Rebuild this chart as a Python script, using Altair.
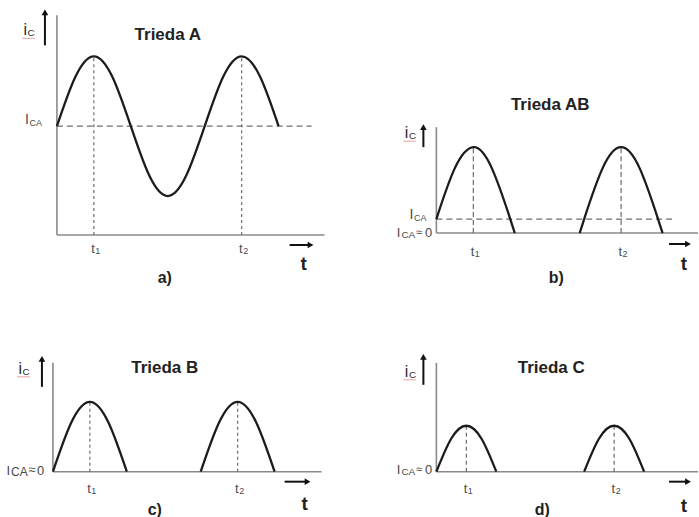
import altair as alt
import pandas as pd

# Horizontal axis is the phase angle (degrees), vertical axis the collector
# current in arbitrary units.  Both scales are shared by all four panels.
PX_PER_DEG = 148 / 360
PX_PER_UNIT = 10.0

# ---------------- data ----------------
# Class A: the collector current swings around the quiescent value
a_phase = [0, 45, 90, 135, 180, 225, 270, 315, 360, 405, 450, 495, 540]
a_ic = [10.9, 15.85, 17.9, 15.85, 10.9, 5.95, 3.9, 5.95, 10.9, 15.85, 17.9, 15.85, 10.9]
a_ica = 10.9
a_peaks = [90, 450]

# Class AB: small quiescent current, conduction a little over half a period
ab_pulse1_phase = [0, 45, 90, 135, 180, 191]
ab_pulse1_ic = [1.4, 6.5, 8.6, 6.5, 1.4, 0.0]
ab_pulse2_phase = [349, 360, 405, 450, 495, 540, 551]
ab_pulse2_ic = [0.0, 1.4, 6.5, 8.6, 6.5, 1.4, 0.0]
ab_ica = 1.4
ab_peaks = [90, 450]

# Class B: conduction during exactly half a period
b_pulse1_phase = [0, 45, 90, 135, 180]
b_pulse1_ic = [0.0, 4.95, 7.0, 4.95, 0.0]
b_pulse2_phase = [360, 405, 450, 495, 540]
b_pulse2_ic = [0.0, 4.95, 7.0, 4.95, 0.0]
b_peaks = [90, 450]

# Class C: conduction during less than half a period
c_pulse1_phase = [0, 36, 73, 110, 146]
c_pulse1_ic = [0.0, 3.3, 4.6, 3.3, 0.0]
c_pulse2_phase = [360, 396, 433, 470, 506]
c_pulse2_ic = [0.0, 3.3, 4.6, 3.3, 0.0]
c_peaks = [73, 433]

peak_names = ["1", "2"]

# ---------------- styling ----------------
FONT = "Liberation Sans"
CURVE = "#1c1c1c"
AXIS = "#8a8a8a"
DASH = "#6e6e6e"
TEXT = "#2b2b2b"
LIGHT = "#4a4a4a"
RED = "#e7a3a3"


def make_panel(p):
    W, H = p["size"]
    ox, oy = p["origin"]
    xs = alt.Scale(domain=[-ox / PX_PER_DEG, (W - ox) / PX_PER_DEG], nice=False, zero=False)
    ys = alt.Scale(domain=[-(H - oy) / PX_PER_UNIT, oy / PX_PER_UNIT], nice=False, zero=False)

    def px(v):
        return (v - ox) / PX_PER_DEG

    def py(v):
        return (oy - v) / PX_PER_UNIT

    def X(f):
        return alt.X(f, type="quantitative", scale=xs, axis=None)

    def Y(f):
        return alt.Y(f, type="quantitative", scale=ys, axis=None)

    layers = []

    def text(s, x, y, size, align="center", color=TEXT, weight="normal", dy=0):
        df = pd.DataFrame({"x": [x], "y": [y], "s": [s]})
        layers.append(
            alt.Chart(df).mark_text(
                font=FONT, fontSize=size, align=align, baseline="alphabetic",
                color=color, fontWeight=weight, dy=dy,
            ).encode(x=X("x"), y=Y("y"), text="s:N")
        )

    # axes
    vax = pd.DataFrame({"x": [0.0], "y": [0.0], "y2": [py(p["vtop"])]})
    layers.append(alt.Chart(vax).mark_rule(color=AXIS, strokeWidth=1.6).encode(
        x=X("x"), y=Y("y"), y2=alt.Y2("y2")))
    hax = pd.DataFrame({"x": [0.0], "x2": [px(p["hright"])], "y": [0.0]})
    layers.append(alt.Chart(hax).mark_rule(color=AXIS, strokeWidth=1.6).encode(
        x=X("x"), x2=alt.X2("x2"), y=Y("y")))

    # quiescent-current level
    if p.get("ica") is not None:
        qd = pd.DataFrame({"x": [0.0], "x2": [px(p["ica_right"])], "y": [p["ica"]]})
        layers.append(alt.Chart(qd).mark_rule(color=DASH, strokeWidth=1.3, strokeDash=[6, 4]).encode(
            x=X("x"), x2=alt.X2("x2"), y=Y("y")))

    # vertical guides at the peaks
    peaks = p["peaks"]
    guide = pd.DataFrame({"x": peaks, "y": [0.0] * len(peaks),
                          "y2": [p["peak_ic"]] * len(peaks)})
    layers.append(alt.Chart(guide).mark_rule(color=DASH, strokeWidth=1.2, strokeDash=p["gdash"]).encode(
        x=X("x"), y=Y("y"), y2=alt.Y2("y2")))

    # the current waveform
    rows = []
    for k, (ph, ic) in enumerate(p["curves"]):
        for a, b in zip(ph, ic):
            rows.append({"phase": a, "ic": b, "seg": k})
    cd = pd.DataFrame(rows)
    layers.append(alt.Chart(cd).mark_line(color=CURVE, strokeWidth=2.3, interpolate="natural").encode(
        x=X("phase"), y=Y("ic"), detail="seg:N", order="phase:Q"))

    # up arrow next to the i_C label
    ax_x = px(p["uparrow"][0])
    ua = pd.DataFrame({"x": [ax_x], "y": [py(p["uparrow"][1])], "y2": [py(p["uparrow"][2] + 5)]})
    layers.append(alt.Chart(ua).mark_rule(color="#111111", strokeWidth=2).encode(
        x=X("x"), y=Y("y"), y2=alt.Y2("y2")))
    uh = pd.DataFrame({"x": [ax_x], "y": [py(p["uparrow"][2] + 4)]})
    layers.append(alt.Chart(uh).mark_point(shape="triangle-up", filled=True, size=45,
                                           color="#111111", opacity=1).encode(x=X("x"), y=Y("y")))

    # right arrow above the t label
    ra = p["rarrow"]
    rd = pd.DataFrame({"x": [px(ra[0])], "x2": [px(ra[1] - 5)], "y": [py(ra[2])]})
    layers.append(alt.Chart(rd).mark_rule(color="#111111", strokeWidth=2).encode(
        x=X("x"), x2=alt.X2("x2"), y=Y("y")))
    rh = pd.DataFrame({"x": [px(ra[1] - 4)], "y": [py(ra[2])]})
    layers.append(alt.Chart(rh).mark_point(shape="triangle-right", filled=True, size=45,
                                           color="#111111", opacity=1).encode(x=X("x"), y=Y("y")))

    # i_C label
    ix, iy = p["ic_label"]
    text("i", px(ix), py(iy), 16, align="right", color=TEXT)
    text("C", px(ix + 0.5), py(iy), 10, align="left", color=TEXT, dy=1)
    ul = pd.DataFrame({"x": [px(ix - 5)], "x2": [px(ix + 8)], "y": [py(iy + 3)]})
    layers.append(alt.Chart(ul).mark_rule(color=RED, strokeWidth=1).encode(
        x=X("x"), x2=alt.X2("x2"), y=Y("y")))

    # title and caption
    tx, ty = p["title_pos"]
    text(p["title"], px(tx), py(ty), 17, weight="bold", color="#222222")
    cx, cy = p["cap_pos"]
    text(p["caption"], px(cx), py(cy), 16, weight="bold", color="#222222")

    # t label under the right arrow
    text("t", px(p["t_pos"][0]), py(p["t_pos"][1]), 19, weight="bold", color="#222222")

    # t1, t2 under the peak guides
    for x_peak, n in zip(peaks, peak_names):
        base = py(oy + p["tlab_drop"])
        text("t", x_peak + 1 / PX_PER_DEG, base, 13, align="right", color=LIGHT)
        text(n, x_peak + 1.5 / PX_PER_DEG, base, 9, align="left", color=LIGHT, dy=1)

    # I_CA label at the quiescent level
    if p.get("ica") is not None:
        lx, ldy = p["ica_label"]
        yv = p["ica"] - ldy / PX_PER_UNIT
        text("I", px(lx), yv, 14, align="right", color=LIGHT)
        text("CA", px(lx + 0.5), yv, 9, align="left", color=LIGHT, dy=2)

    # I_CA ~ 0 label at the time axis
    if p.get("zero_label") is not None:
        i_r, sub_l, zero_l, sub_size, drop = p["zero_label"]
        yv = py(oy + drop)
        text("I", px(i_r), yv, 13, align="right", color=LIGHT)
        text("CA", px(sub_l), yv, sub_size, align="left", color=LIGHT, dy=1)
        text("≈", px(sub_l + sub_size * 1.45), yv, sub_size + 1, align="left", color=LIGHT, dy=-1)
        text("0", px(zero_l), yv, 13, align="left", color=LIGHT)

    return alt.layer(*layers).properties(width=W, height=H)


panels = [
    dict(title="Trieda A", caption="a)", size=(349, 300), origin=(57, 235),
         vtop=15, hright=325, curves=[(a_phase, a_ic)], peaks=a_peaks, peak_ic=max(a_ic),
         ica=a_ica, ica_right=312, ica_label=(29, -2), gdash=[3, 3],
         uparrow=(45, 45, 8), ic_label=(27, 35), title_pos=(168, 40), cap_pos=(165, 283),
         rarrow=(290, 315, 245), t_pos=(304, 270), tlab_drop=18),
    dict(title="Trieda AB", caption="b)", size=(350, 300), origin=(88, 233),
         vtop=127, hright=350,
         curves=[(ab_pulse1_phase, ab_pulse1_ic), (ab_pulse2_phase, ab_pulse2_ic)],
         peaks=ab_peaks, peak_ic=max(ab_pulse1_ic),
         ica=ab_ica, ica_right=326, ica_label=(65, 0), gdash=[5, 3],
         zero_label=(52, 53, 76.5, 10, 4),
         uparrow=(75, 147, 123), ic_label=(60, 138), title_pos=(202, 110), cap_pos=(208, 283),
         rarrow=(321, 344, 244), t_pos=(336, 270), tlab_drop=23),
    dict(title="Trieda B", caption="c)", size=(349, 217), origin=(53, 172),
         vtop=63, hright=322,
         curves=[(b_pulse1_phase, b_pulse1_ic), (b_pulse2_phase, b_pulse2_ic)],
         peaks=b_peaks, peak_ic=max(b_pulse1_ic), gdash=[3, 3],
         zero_label=(10, 11, 37, 12, 3),
         uparrow=(42, 87, 55), ic_label=(22, 74), title_pos=(165, 73), cap_pos=(155, 215),
         rarrow=(285, 312, 182), t_pos=(305, 210), tlab_drop=21),
    dict(title="Trieda C", caption="d)", size=(350, 217), origin=(88, 172),
         vtop=63, hright=350,
         curves=[(c_pulse1_phase, c_pulse1_ic), (c_pulse2_phase, c_pulse2_ic)],
         peaks=c_peaks, peak_ic=max(c_pulse1_ic), gdash=[4, 3],
         zero_label=(52, 53, 76.5, 10, 2),
         uparrow=(75, 85, 53), ic_label=(60, 77), title_pos=(203, 73), cap_pos=(194, 215),
         rarrow=(321, 344, 182), t_pos=(336, 212), tlab_drop=21),
]

charts = [make_panel(p) for p in panels]
top = alt.hconcat(charts[0], charts[1], spacing=0, bounds="flush")
bottom = alt.hconcat(charts[2], charts[3], spacing=0, bounds="flush")
chart = alt.vconcat(top, bottom, spacing=0).properties(
    padding=0, background="white"
).configure_view(stroke=None)

chart.save("out.html", embed_options={"renderer": "svg", "actions": False})
